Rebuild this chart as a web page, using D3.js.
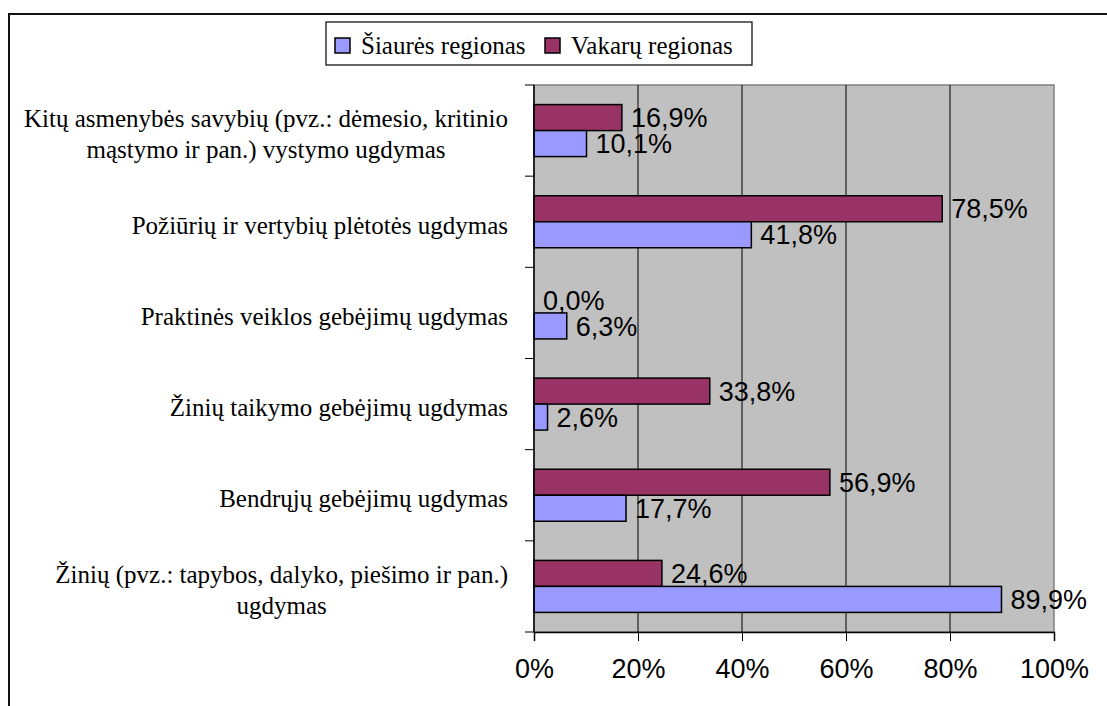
<!DOCTYPE html>
<html>
<head>
<meta charset="utf-8">
<script src="https://cdn.jsdelivr.net/npm/d3@7"></script>
<style>
  body { margin: 0; background: #fff; }
  svg { display: block; }
  .serif { font-family: "Times New Roman", "Liberation Serif", Times, "DejaVu Serif", serif; }
  .sans { font-family: Arial, "Liberation Sans", Helvetica, sans-serif; }
</style>
</head>
<body>
<div id="chart"></div>
<script>
// chart data
var categories = [
  ["Kitų asmenybės savybių (pvz.: dėmesio, kritinio", "mąstymo ir pan.) vystymo ugdymas"],
  ["Požiūrių ir vertybių plėtotės ugdymas"],
  ["Praktinės veiklos gebėjimų ugdymas"],
  ["Žinių taikymo gebėjimų ugdymas"],
  ["Bendrųjų gebėjimų ugdymas"],
  ["Žinių (pvz.: tapybos, dalyko, piešimo ir pan.)", "ugdymas"]
];
var seriesNames = ["Vakarų regionas", "Šiaurės regionas"];
var vakaru = [16.9, 78.5, 0.0, 33.8, 56.9, 24.6];
var siaures = [10.1, 41.8, 6.3, 2.6, 17.7, 89.9];
var xTicks = [0, 20, 40, 60, 80, 100];

var W = 1107, H = 706;
var plot = { left: 534, right: 1054, top: 85, bottom: 632 };
var colors = { "Vakarų regionas": "#993366", "Šiaurės regionas": "#9999FF" };

var svg = d3.select('#chart').append('svg')
    .attr('width', W)
    .attr('height', H);

// outer frame
svg.append('rect')
    .attr('x', 9).attr('y', 14)
    .attr('width', 1200).attr('height', 800)
    .attr('fill', 'none')
    .attr('stroke', '#111')
    .attr('stroke-width', 2);

var x = d3.scaleLinear().domain([0, 100]).range([plot.left, plot.right]);
var y = d3.scaleBand().domain(d3.range(categories.length)).range([plot.top, plot.bottom]);
var bw = y.bandwidth();
var barH = 26;
var ySub = d3.scaleBand().domain(seriesNames)
    .range([bw / 2 - barH, bw / 2 + barH]);

// plot background
svg.append('rect')
    .attr('x', plot.left).attr('y', plot.top)
    .attr('width', plot.right - plot.left).attr('height', plot.bottom - plot.top)
    .attr('fill', '#C0C0C0')
    .attr('stroke', '#808080')
    .attr('stroke-width', 1.5);

// vertical gridlines
svg.append('g').selectAll('line')
    .data(xTicks.slice(1, -1))
    .join('line')
    .attr('x1', d => x(d)).attr('x2', d => x(d))
    .attr('y1', plot.top).attr('y2', plot.bottom)
    .attr('stroke', '#000').attr('stroke-width', 1);

// bars
var rows = categories.map((c, i) => ({ i: i, vals: [
  { s: "Vakarų regionas", v: vakaru[i] },
  { s: "Šiaurės regionas", v: siaures[i] }
]}));

var groups = svg.append('g').selectAll('g')
    .data(rows)
    .join('g')
    .attr('transform', d => 'translate(0,' + y(d.i) + ')');

groups.selectAll('rect')
    .data(d => d.vals.filter(e => e.v > 0))
    .join('rect')
    .attr('x', x(0))
    .attr('y', d => ySub(d.s))
    .attr('width', d => x(d.v) - x(0))
    .attr('height', ySub.bandwidth())
    .attr('fill', d => colors[d.s])
    .attr('stroke', '#000')
    .attr('stroke-width', 1.5);

groups.selectAll('text')
    .data(d => d.vals)
    .join('text')
    .attr('class', 'sans')
    .attr('x', d => x(d.v) + 9)
    .attr('y', d => ySub(d.s) + ySub.bandwidth() / 2)
    .attr('dy', '0.36em')
    .attr('font-size', 27)
    .attr('fill', '#000')
    .text(d => d.v.toFixed(1).replace('.', ',') + '%');

// x axis
var xAxis = d3.axisBottom(x)
    .tickValues(xTicks)
    .tickSize(9)
    .tickPadding(18)
    .tickFormat(d => d + '%');
var gx = svg.append('g')
    .attr('transform', 'translate(0,' + plot.bottom + ')')
    .call(xAxis)
    .attr('font-family', null);
gx.select('.domain').attr('stroke', '#000').attr('stroke-width', 1.5);
gx.selectAll('.tick line').attr('stroke', '#000').attr('stroke-width', 1);
gx.selectAll('.tick text')
    .attr('class', 'sans')
    .attr('font-size', 27)
    .attr('fill', '#000');

// y axis line + boundary ticks
svg.append('line')
    .attr('x1', plot.left).attr('x2', plot.left)
    .attr('y1', plot.top).attr('y2', plot.bottom)
    .attr('stroke', '#000').attr('stroke-width', 1.5);
svg.append('g').selectAll('line')
    .data(d3.range(categories.length + 1))
    .join('line')
    .attr('x1', plot.left - 9).attr('x2', plot.left)
    .attr('y1', d => plot.top + d * bw).attr('y2', d => plot.top + d * bw)
    .attr('stroke', '#000').attr('stroke-width', 1);

// category labels
var labelRight = 508;
var lineH = 31;
categories.forEach(function(lines, i) {
  var cy = y(i) + bw / 2 + 3;
  var g = svg.append('g');
  var texts = lines.map(function(l, j) {
    return g.append('text')
      .attr('class', 'serif')
      .attr('y', cy + (j - (lines.length - 1) / 2) * lineH)
      .attr('dy', '0.35em')
      .attr('font-size', 25)
      .attr('fill', '#000')
      .text(l);
  });
  var maxW = d3.max(texts, t => t.node().getComputedTextLength());
  texts.forEach(function(t) {
    t.attr('x', labelRight - maxW / 2).attr('text-anchor', 'middle');
  });
});

// legend
var legend = svg.append('g');
legend.append('rect')
    .attr('x', 326).attr('y', 22)
    .attr('width', 426).attr('height', 43)
    .attr('fill', '#fff')
    .attr('stroke', '#000')
    .attr('stroke-width', 1.2);
var legendItems = ["Šiaurės regionas", "Vakarų regionas"];
var legendX = [335, 545];
legendItems.forEach(function(s, i) {
  legend.append('rect')
    .attr('x', legendX[i]).attr('y', 38)
    .attr('width', 15).attr('height', 15)
    .attr('fill', colors[s])
    .attr('stroke', '#000')
    .attr('stroke-width', 1.5);
  legend.append('text')
    .attr('class', 'serif')
    .attr('x', legendX[i] + 26).attr('y', 45.5)
    .attr('dy', '0.35em')
    .attr('font-size', 25)
    .attr('fill', '#000')
    .text(s);
});
</script>
</body>
</html>
